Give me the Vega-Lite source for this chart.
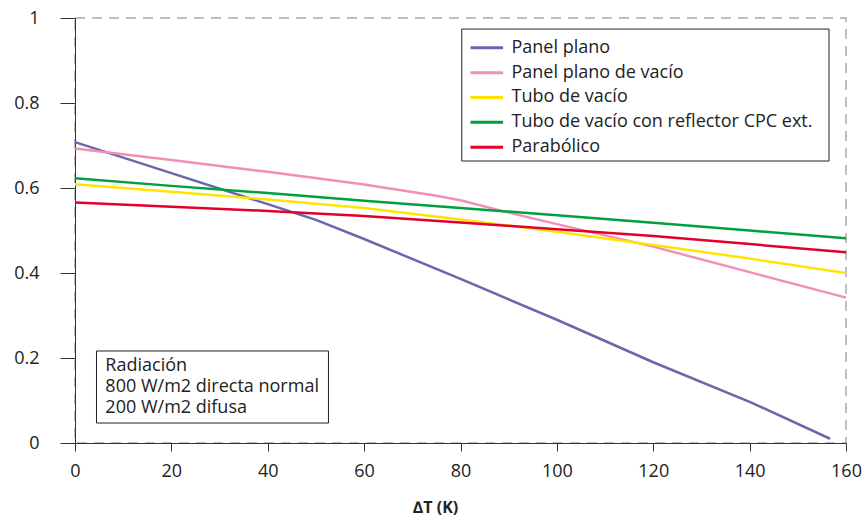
{
  "$schema": "https://vega.github.io/schema/vega-lite/v6.json",
  "width": 771,
  "height": 425,
  "autosize": "none",
  "padding": {"left": 75, "top": 18, "right": 21, "bottom": 77},
  "background": "white",
  "config": {
    "font": "Open Sans",
    "view": {"stroke": "#aaaaaa", "strokeWidth": 1.5, "strokeDash": [10, 7]},
    "axis": {"grid": false, "domainColor": "#333333", "tickColor": "#333333", "labelColor": "#222222", "labelFont": "Open Sans", "labelFontSize": 18, "titleFont": "Open Sans"}
  },
  "layer": [
    {
      "data": {"values": [
        {"serie": "Panel plano", "x": 0, "y": 0.708},
        {"serie": "Panel plano", "x": 20, "y": 0.635},
        {"serie": "Panel plano", "x": 40, "y": 0.562},
        {"serie": "Panel plano", "x": 50, "y": 0.525},
        {"serie": "Panel plano", "x": 60, "y": 0.48},
        {"serie": "Panel plano", "x": 80, "y": 0.386},
        {"serie": "Panel plano", "x": 100, "y": 0.29},
        {"serie": "Panel plano", "x": 120, "y": 0.19},
        {"serie": "Panel plano", "x": 140, "y": 0.097},
        {"serie": "Panel plano", "x": 156.7, "y": 0.01},
        {"serie": "Panel plano de vacío", "x": 0, "y": 0.693},
        {"serie": "Panel plano de vacío", "x": 20, "y": 0.666},
        {"serie": "Panel plano de vacío", "x": 40, "y": 0.638},
        {"serie": "Panel plano de vacío", "x": 60, "y": 0.608},
        {"serie": "Panel plano de vacío", "x": 75, "y": 0.582},
        {"serie": "Panel plano de vacío", "x": 80, "y": 0.571},
        {"serie": "Panel plano de vacío", "x": 90, "y": 0.542},
        {"serie": "Panel plano de vacío", "x": 100, "y": 0.515},
        {"serie": "Panel plano de vacío", "x": 120, "y": 0.462},
        {"serie": "Panel plano de vacío", "x": 140, "y": 0.402},
        {"serie": "Panel plano de vacío", "x": 160, "y": 0.342},
        {"serie": "Tubo de vacío", "x": 0, "y": 0.609},
        {"serie": "Tubo de vacío", "x": 20, "y": 0.591},
        {"serie": "Tubo de vacío", "x": 40, "y": 0.573},
        {"serie": "Tubo de vacío", "x": 60, "y": 0.553},
        {"serie": "Tubo de vacío", "x": 80, "y": 0.526},
        {"serie": "Tubo de vacío", "x": 100, "y": 0.497},
        {"serie": "Tubo de vacío", "x": 120, "y": 0.466},
        {"serie": "Tubo de vacío", "x": 140, "y": 0.434},
        {"serie": "Tubo de vacío", "x": 160, "y": 0.4},
        {"serie": "Tubo de vacío con reflector CPC ext.", "x": 0, "y": 0.623},
        {"serie": "Tubo de vacío con reflector CPC ext.", "x": 20, "y": 0.605},
        {"serie": "Tubo de vacío con reflector CPC ext.", "x": 40, "y": 0.588},
        {"serie": "Tubo de vacío con reflector CPC ext.", "x": 60, "y": 0.57},
        {"serie": "Tubo de vacío con reflector CPC ext.", "x": 80, "y": 0.553},
        {"serie": "Tubo de vacío con reflector CPC ext.", "x": 100, "y": 0.536},
        {"serie": "Tubo de vacío con reflector CPC ext.", "x": 120, "y": 0.518},
        {"serie": "Tubo de vacío con reflector CPC ext.", "x": 140, "y": 0.5},
        {"serie": "Tubo de vacío con reflector CPC ext.", "x": 160, "y": 0.482},
        {"serie": "Parabólico", "x": 0, "y": 0.566},
        {"serie": "Parabólico", "x": 20, "y": 0.556},
        {"serie": "Parabólico", "x": 40, "y": 0.546},
        {"serie": "Parabólico", "x": 60, "y": 0.534},
        {"serie": "Parabólico", "x": 80, "y": 0.519},
        {"serie": "Parabólico", "x": 100, "y": 0.503},
        {"serie": "Parabólico", "x": 120, "y": 0.487},
        {"serie": "Parabólico", "x": 140, "y": 0.468},
        {"serie": "Parabólico", "x": 160, "y": 0.449}
      ]},
      "mark": {"type": "line", "strokeWidth": 2.5},
      "encoding": {
        "x": {"field": "x", "type": "quantitative",
          "scale": {"domain": [0, 160], "nice": false, "zero": false},
          "axis": {"values": [0, 20, 40, 60, 80, 100, 120, 140, 160], "title": "∆T (K)", "titleFontSize": 16, "titleFontWeight": "bold", "titleColor": "#222222", "titleX": 360, "titleY": 56, "tickSize": 8, "labelPadding": 11, "labelFlush": false}},
        "y": {"field": "y", "type": "quantitative",
          "scale": {"domain": [0, 1], "nice": false},
          "axis": {"values": [0, 0.2, 0.4, 0.6, 0.8, 1], "format": "~g", "title": null, "tickSize": 15, "labelPadding": 21, "labelFlush": false}},
        "color": {"field": "serie", "type": "nominal",
          "scale": {"domain": ["Panel plano", "Panel plano de vacío", "Tubo de vacío", "Tubo de vacío con reflector CPC ext.", "Parabólico"],
                    "range": ["#6868ae", "#f28fb4", "#ffe400", "#00a03e", "#e3002d"]},
          "legend": null}
      }
    },
    {
      "data": {"values": [{"x": 80.26, "x2": 156.47, "y": 0.974, "y2": 0.6635}]},
      "mark": {"type": "rect", "fill": "white", "stroke": "#222222", "strokeWidth": 1},
      "encoding": {
        "x": {"field": "x", "type": "quantitative"},
        "x2": {"field": "x2"},
        "y": {"field": "y", "type": "quantitative"},
        "y2": {"field": "y2"}
      }
    },
    {
      "data": {"values": [
        {"serie": "Panel plano", "x": 82.07, "x2": 88.84, "y": 0.930, "lx": 90.58},
        {"serie": "Panel plano de vacío", "x": 82.07, "x2": 88.84, "y": 0.871, "lx": 90.58},
        {"serie": "Tubo de vacío", "x": 82.07, "x2": 88.84, "y": 0.813, "lx": 90.58},
        {"serie": "Tubo de vacío con reflector CPC ext.", "x": 82.07, "x2": 88.84, "y": 0.755, "lx": 90.58},
        {"serie": "Parabólico", "x": 82.07, "x2": 88.84, "y": 0.696, "lx": 90.58}
      ]},
      "layer": [
        {
          "mark": {"type": "rule", "strokeWidth": 3},
          "encoding": {
            "x": {"field": "x", "type": "quantitative"},
            "x2": {"field": "x2"},
            "y": {"field": "y", "type": "quantitative"},
            "color": {"field": "serie", "type": "nominal", "legend": null}
          }
        },
        {
          "mark": {"type": "text", "align": "left", "baseline": "middle", "fontSize": 18, "color": "#222222", "dy": 0},
          "encoding": {
            "x": {"field": "lx", "type": "quantitative"},
            "y": {"field": "y", "type": "quantitative"},
            "text": {"field": "serie"}
          }
        }
      ]
    },
    {
      "data": {"values": [{"x": 4.46, "x2": 52.6, "y": 0.047, "y2": 0.2165}]},
      "mark": {"type": "rect", "fill": "white", "stroke": "#222222", "strokeWidth": 1},
      "encoding": {
        "x": {"field": "x", "type": "quantitative"},
        "x2": {"field": "x2"},
        "y": {"field": "y", "type": "quantitative"},
        "y2": {"field": "y2"}
      }
    },
    {
      "data": {"values": [{"x": 6.3, "y": 0.203, "label": "Radiación\n800 W/m2 directa normal\n200 W/m2 difusa"}]},
      "mark": {"type": "text", "align": "left", "baseline": "top", "fontSize": 18, "lineHeight": 21, "lineBreak": "\n", "color": "#222222"},
      "encoding": {
        "x": {"field": "x", "type": "quantitative"},
        "y": {"field": "y", "type": "quantitative"},
        "text": {"field": "label"}
      }
    }
  ]
}
